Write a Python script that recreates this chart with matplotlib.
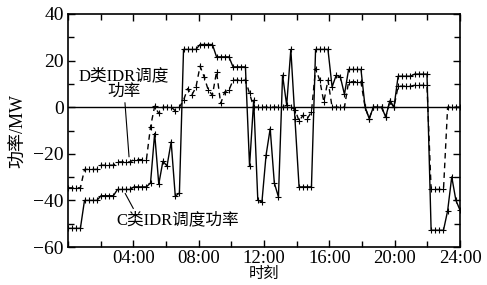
import numpy as np
import matplotlib
matplotlib.use("Agg")
import matplotlib.pyplot as plt
from matplotlib.ticker import MultipleLocator, FixedLocator

plt.rcParams['font.family'] = ['Liberation Serif', 'Noto Sans CJK SC']
plt.rcParams['axes.unicode_minus'] = True

# 15-min resolution time axis (96 points over 0-24 h)
hours = np.linspace(0, 24, 96)

c_power = [
    -52, -52, -52, -52,
    -40, -40, -40, -40,
    -38, -38, -38, -38,
    -35.3, -35.3, -35.3, -35.3,
    -34.2, -34.2, -34.2, -34.2,
    -32.5, -11.3, -33, -23.2, -25.2, -14.9, -38.2, -36.8,
    24.8, 24.8, 24.8, 24.8,
    26.9, 26.9, 26.9, 26.9,
    21.6, 21.6, 21.6, 21.6,
    17.3, 17.3, 17.3, 17.3,
    -25.3, 3, -39.9, -40.6, -20.6, -9.2, -32.5, -38.5,
    13.7, 0.9, 24.8, -5,
    -34.2, -34.2, -34.2, -34.2,
    24.8, 24.8, 24.8, 24.8,
    8.7, 13.7, 13, 5.5,
    16.2, 16.2, 16.2, 16.2,
    0, -4.9, 0, 0, 0, -4.2, 2.7, 0,
    13.3, 13.3, 13.3, 13.3,
    14.2, 14.2, 14.2, 14.2,
    -52.8, -52.8, -52.8, -52.8,
    -44.5, -29.9, -39.9, -44.2,
]

d_power = [
    -34.6, -34.6, -34.6, -34.6,
    -26.7, -26.7, -26.7, -26.7,
    -24.9, -24.9, -24.9, -24.9,
    -23.5, -23.5, -23.5, -23.5,
    -22.5, -22.5, -22.5, -22.5,
    -8.4, 0.4, -2.7, 0, 0, 0, -1.5, 0,
    3, 8, 5.2, 8.5, 17.6, 13, 7.3, 5.2, 15.2, 1.6, 6.6, 7.3,
    11.6, 11.6, 11.6, 11.6,
    5.9, 0, 0, 0, 0, 0, 0, 0,
    0, 0, 0, -1,
    -5.9, -3.4, -4.9, -2,
    16.6, 11.6, 2.3, 11.6,
    0, 0, 0, 0,
    10.9, 10.9, 10.9, 10.9,
    0, -4.9, 0, 0, 0, -4.2, 2.7, 0,
    9, 9, 9, 9,
    9.4, 9.4, 9.4, 9.4,
    -35.3, -35.3, -35.3, -35.3,
    0, 0, 0, 0,
]

x_major = [4, 8, 12, 16, 20, 24]
x_labels = ["04:00", "08:00", "12:00", "16:00", "20:00", "24:00"]
y_major = [-60, -40, -20, 0, 20, 40]

fig = plt.figure(figsize=(4.87, 2.85), dpi=100)
ax = fig.add_axes([68/487, 1-247/285, (460-68)/487, (247-14)/285])

ax.axhline(0, color='black', lw=1.0, zorder=1)
ax.plot(hours, c_power, color='black', lw=1.0, ls='-', marker='+', ms=5, mew=0.8, zorder=3)
ax.plot(hours, d_power, color='black', lw=1.0, ls=(0, (4, 3)), marker='+', ms=5, mew=0.8, zorder=2)

ax.set_xlim(0, 24)
ax.set_ylim(-60, 40)
ax.xaxis.set_major_locator(FixedLocator(x_major))
ax.set_xticklabels(x_labels)
ax.xaxis.set_minor_locator(MultipleLocator(2))
ax.yaxis.set_major_locator(FixedLocator(y_major))
ax.set_yticklabels([f"{v}" if v >= 0 else f"\u2212{-v}" for v in y_major])
ax.yaxis.set_minor_locator(MultipleLocator(10))
ax.tick_params(which='both', direction='in', top=True, right=True, labelsize=14, width=1)
ax.tick_params(axis='x', which='major', labelsize=13.5, pad=2)
ax.tick_params(which='major', length=5)
ax.tick_params(axis='y', which='major', pad=3)
ax.tick_params(which='minor', length=4)
for s in ax.spines.values():
    s.set_linewidth(1.2)

ax.set_xlabel("时刻", fontsize=11, labelpad=0)
ax.set_ylabel("功率/MW", fontsize=13, labelpad=4)

ax.annotate("D类IDR调度\n功率", xy=(3.75, -22.5), xytext=(3.4, 10),
            ha='center', va='center', fontsize=12, linespacing=1.0,
            arrowprops=dict(arrowstyle='-', color='black', lw=0.8, shrinkA=0, shrinkB=2))
ax.annotate("", xy=(3.5, -37), xytext=(4.0, -43.5),
            arrowprops=dict(arrowstyle='-', color='black', lw=0.8, shrinkA=0, shrinkB=0))
ax.text(6.7, -48.5, "C类IDR调度功率", ha='center', va='center', fontsize=12)

fig.savefig("out.png", dpi=100)
